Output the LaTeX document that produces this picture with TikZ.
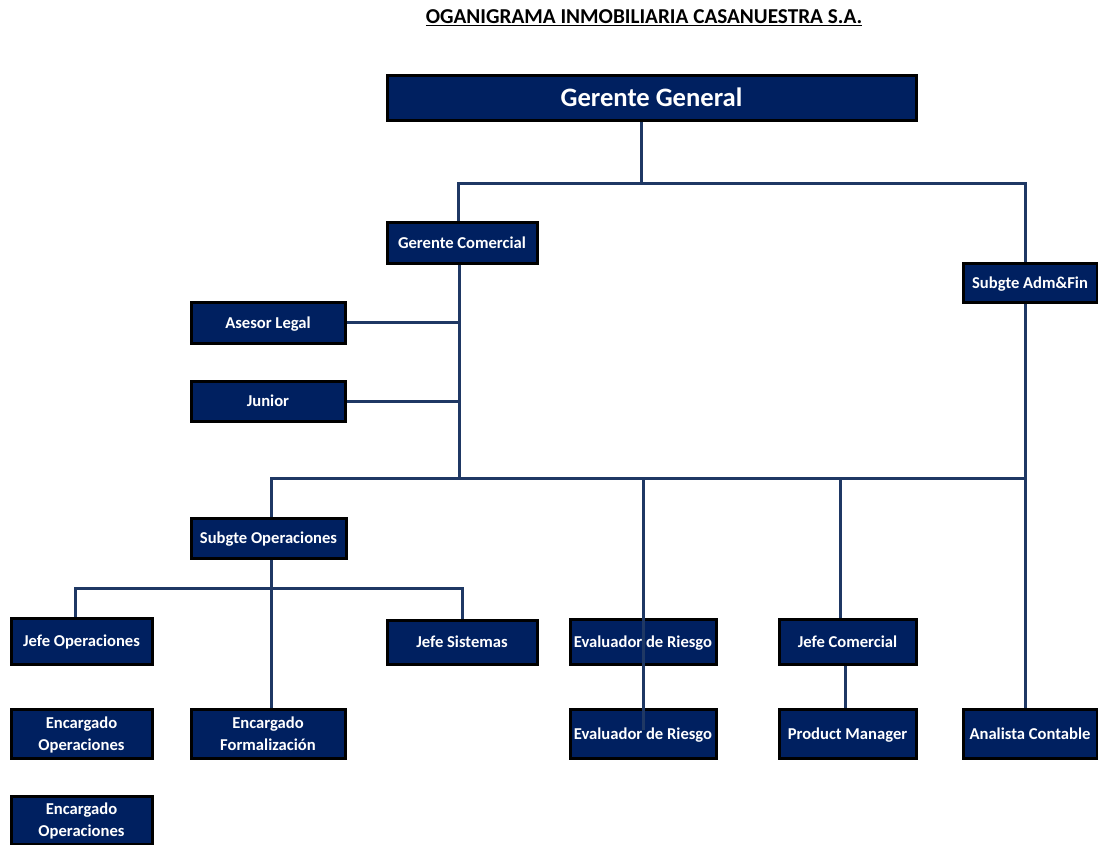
\documentclass[tikz,border=0pt]{standalone}
\usepackage{fontspec}
\setmainfont{Carlito}
\usetikzlibrary{backgrounds}
\definecolor{boxfill}{RGB}{0,32,96}
\definecolor{linecol}{RGB}{31,56,100}
\begin{document}
\begin{tikzpicture}[x=1pt,y=-1pt,
  box/.style={draw=black,line width=3pt,fill=boxfill,text=white,font=\fontsize{16.6}{22}\selectfont\bfseries,align=center,inner sep=0pt,text depth=0pt},
  conn/.style={draw=linecol,line width=3pt}]
\useasboundingbox (0,0) rectangle (1098,844);
\node[font=\fontsize{21.2}{24}\selectfont\bfseries] (title) at (644,18) {\underline{OGANIGRAMA INMOBILIARIA CASANUESTRA S.A.}};
\node[box,minimum width=529,minimum height=45,font=\fontsize{26.6}{30}\selectfont\bfseries] (gg) at (651.5,97.5) {Gerente General};
\node[box,minimum width=150,minimum height=41] (gc) at (462,242.5) {Gerente Comercial};
\node[box,minimum width=134,minimum height=39] (saf) at (1030,282.5) {Subgte Adm\&Fin};
\node[box,minimum width=154,minimum height=41] (al) at (268,322.5) {Asesor Legal};
\node[box,minimum width=154,minimum height=40] (jr) at (268,401) {Junior};
\node[box,minimum width=155,minimum height=40] (so) at (268.5,538) {Subgte Operaciones};
\node[box,minimum width=141,minimum height=46] (jo) at (81.5,641) {Jefe Operaciones};
\node[box,minimum width=150,minimum height=44] (js) at (462,642) {Jefe Sistemas};
\node[box,minimum width=146,minimum height=45] (er1) at (643,641.5) {Evaluador de Riesgo};
\node[box,minimum width=137,minimum height=45] (jc) at (847.5,641.5) {Jefe Comercial};
\node[box,minimum width=141,minimum height=49] (eo1) at (81.5,733.5) {Encargado\\Operaciones};
\node[box,minimum width=154,minimum height=49] (ef) at (268,733.5) {Encargado\\Formalización};
\node[box,minimum width=146,minimum height=49] (er2) at (643,733.5) {Evaluador de Riesgo};
\node[box,minimum width=137,minimum height=49] (pm) at (847.5,733.5) {Product Manager};
\node[box,minimum width=134,minimum height=49] (ac) at (1030,733.5) {Analista Contable};
\node[box,minimum width=141,minimum height=48] (eo2) at (81.5,820) {Encargado\\Operaciones};
\coordinate (ggB) at (641,183);
\coordinate (h1L) at (458,183);
\coordinate (h1R) at (1025,183);
\coordinate (gcB) at (459,478);
\coordinate (jrE) at (461,401);
\coordinate (h2L) at (271,478);
\coordinate (h2R) at (1025,478);
\coordinate (h2E) at (643,478);
\coordinate (erE) at (643,730);
\coordinate (h2J) at (840,478);
\coordinate (h3M) at (271,588);
\coordinate (h3L) at (75,588);
\coordinate (h3R) at (462,588);
\coordinate (pmx) at (845,700);
\begin{pgfonlayer}{background}
\fill[white] (0,0) rectangle (1098,844);
\draw[conn] (gg.south -| ggB) -- (ggB);
\draw[conn] (gc.north -| h1L) -- (h1L) -- (h1R) -- (saf.north -| h1R);
\draw[conn] (gc.south -| gcB) -- (gcB);
\draw[conn] (al.east) -- (al.east -| gcB);
\draw[conn] (jr.east) -- (jrE);
\draw[conn] (so.north -| h2L) -- (h2L) -- (h2R);
\draw[conn] (saf.south -| h2R) -- (ac.north -| h2R);
\draw[conn] (h2J) -- (jc.north -| h2J);
\draw[conn] (so.south -| h3M) -- (ef.north -| h3M);
\draw[conn] (jo.north -| h3L) -- (h3L) -- (h3R) -- (js.north);
\draw[conn] (jc.south -| pmx) -- (pm.north -| pmx);
\end{pgfonlayer}
\draw[conn] (h2E) -- (erE);
\end{tikzpicture}
\end{document}
